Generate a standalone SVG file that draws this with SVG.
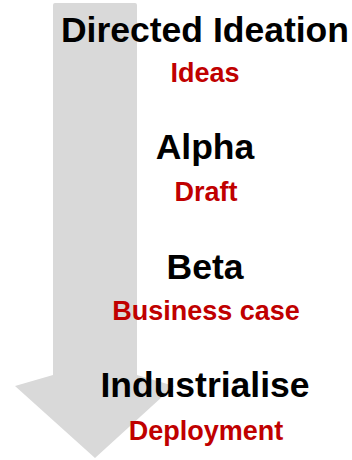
<svg xmlns="http://www.w3.org/2000/svg" width="352" height="460" viewBox="0 0 352 460">
  <style>
    .stage { font-family: "Liberation Sans", Arial, sans-serif; font-weight: bold; text-anchor: middle; fill: #000000; font-size: 35.5px; }
    .output { font-family: "Liberation Sans", Arial, sans-serif; font-weight: bold; text-anchor: middle; fill: #c00000; font-size: 27px; }
  </style>
  <rect width="352" height="460" fill="#ffffff"/>
  <!-- big downward process arrow behind the labels -->
  <g id="flow-arrow">
    <path d="M55,3 H135 Q137,3 137,5 V375 L174,386 L95,458 L15,386 L53,375 V5 Q53,3 55,3 Z" fill="#d9d9d9"/>
  </g>
  <g id="directed-ideation">
    <text class="stage" x="205" y="42">Directed Ideation</text>
    <text class="output" x="205" y="82">Ideas</text>
  </g>
  <g id="alpha">
    <text class="stage" x="205" y="159">Alpha</text>
    <text class="output" x="206" y="201">Draft</text>
  </g>
  <g id="beta">
    <text class="stage" x="205" y="279">Beta</text>
    <text class="output" x="206" y="320">Business case</text>
  </g>
  <g id="industrialise">
    <text class="stage" x="205" y="397">Industrialise</text>
    <text class="output" x="206" y="440">Deployment</text>
  </g>
</svg>
